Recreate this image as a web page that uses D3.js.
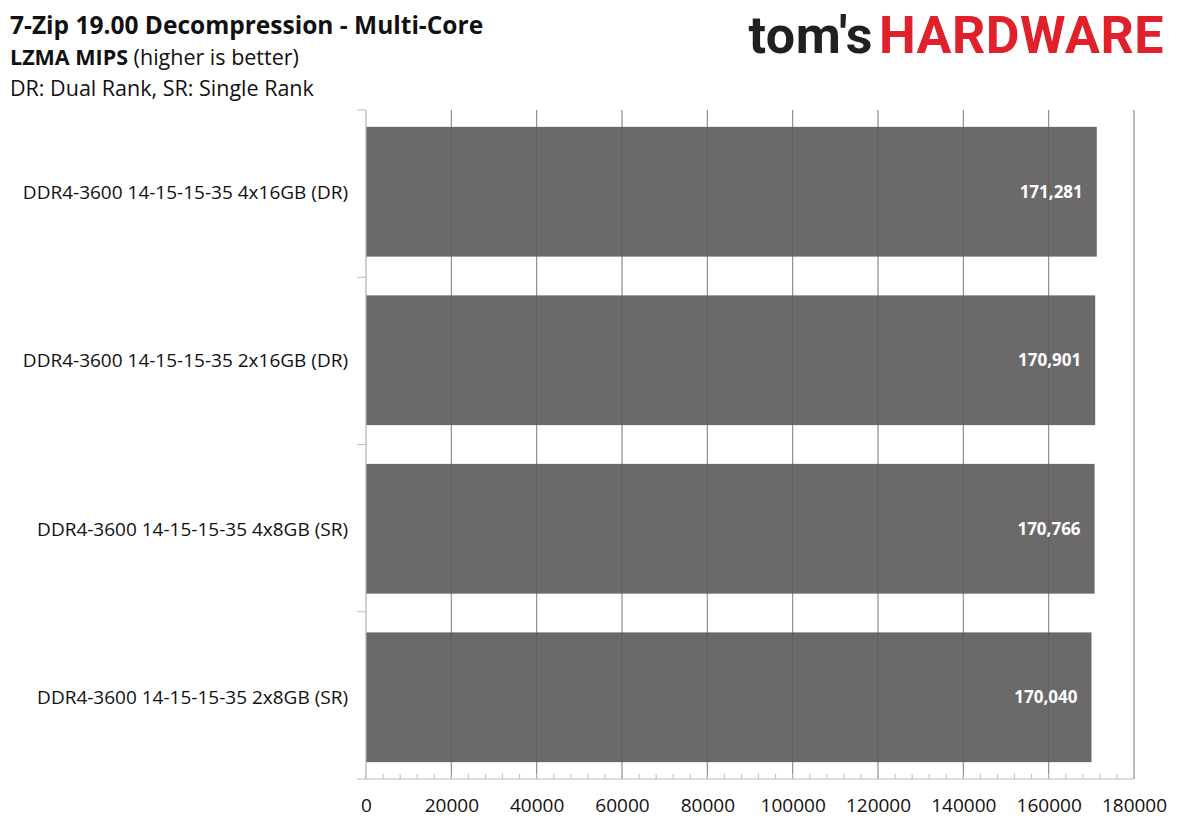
<!DOCTYPE html>
<html><head><meta charset="utf-8">
<script src="https://cdn.jsdelivr.net/npm/d3@7"></script>
<style>body{margin:0;background:#fff;font-family:"Open Sans",sans-serif}</style>
</head><body>
<svg id="c" width="1180" height="833"></svg>
<script>
const categories = [
  "DDR4-3600 14-15-15-35 4x16GB (DR)",
  "DDR4-3600 14-15-15-35 2x16GB (DR)",
  "DDR4-3600 14-15-15-35 4x8GB (SR)",
  "DDR4-3600 14-15-15-35 2x8GB (SR)"
];
const values = [171281, 170901, 170766, 170040];
const xTicks = [0, 20000, 40000, 60000, 80000, 100000, 120000, 140000, 160000, 180000];

const svg = d3.select("#c");
const x = d3.scaleLinear().domain([0, 180000]).range([366, 1134]);
const y = d3.scaleBand().domain(categories).range([110, 779]).paddingInner(0.23).paddingOuter(0.1);
const axisY = 779;

// gridlines
svg.append("g").selectAll("line").data(xTicks).join("line")
  .attr("x1", d => x(d)).attr("x2", d => x(d))
  .attr("y1", 110).attr("y2", axisY)
  .attr("stroke", "#c8c8c8").attr("stroke-width", 1);

// bars
svg.append("g").selectAll("rect").data(values).join("rect")
  .attr("x", x(0)).attr("y", (d, i) => y(categories[i]))
  .attr("width", d => x(d) - x(0)).attr("height", y.bandwidth())
  .attr("fill", "#6b6969");

// gridlines over bars (faint)
svg.append("g").selectAll("line").data(xTicks.slice(1)).join("line")
  .attr("x1", d => x(d)).attr("x2", d => x(d))
  .attr("y1", 110).attr("y2", axisY)
  .attr("stroke", "#5a5858").attr("stroke-width", 1).attr("opacity", 0.6);

// value labels
svg.append("g").selectAll("text").data(values).join("text")
  .attr("x", d => x(d) - 14)
  .attr("y", (d, i) => y(categories[i]) + y.bandwidth() / 2 + 6)
  .attr("text-anchor", "end").attr("fill", "#fff")
  .attr("font-size", 17).attr("font-weight", "bold")
  .text(d => d3.format(",")(d));

// x axis
const xAxis = d3.axisBottom(x).tickValues(xTicks).tickSize(0).tickPadding(20).tickFormat(d3.format("d"));
const gx = svg.append("g").attr("transform", `translate(0,${axisY})`).call(xAxis);
gx.select(".domain").remove();
gx.selectAll("text").attr("font-size", 19).attr("fill", "#111").attr("font-family", "Open Sans");
svg.append("line").attr("x1", 357).attr("x2", 1134).attr("y1", axisY).attr("y2", axisY).attr("stroke", "#bbb");
svg.append("g").selectAll("line").data(d3.range(0, 180001, 4000)).join("line")
  .attr("x1", d => x(d)).attr("x2", d => x(d))
  .attr("y1", axisY).attr("y2", axisY - 5).attr("stroke", "#bbb");

// y axis separators + labels
svg.append("line").attr("x1", 366).attr("x2", 366).attr("y1", 110).attr("y2", axisY).attr("stroke", "#bbb");
const seps = categories.map((c, i) => 110 + i * (669 / 4));
svg.append("g").selectAll("line").data(seps).join("line")
  .attr("x1", 357).attr("x2", 366).attr("y1", d => d).attr("y2", d => d).attr("stroke", "#bbb");
svg.append("g").selectAll("text").data(categories).join("text")
  .attr("x", 348).attr("y", d => y(d) + y.bandwidth() / 2 + 7)
  .attr("text-anchor", "end").attr("font-size", 19).attr("fill", "#111").text(d => d);

// titles
svg.append("text").attr("x", 10).attr("y", 34).attr("font-size", 24.5).attr("font-weight", "bold").attr("fill", "#111")
  .text("7-Zip 19.00 Decompression - Multi-Core");
const st = svg.append("text").attr("x", 10).attr("y", 65).attr("font-size", 21.5).attr("fill", "#111");
st.append("tspan").attr("font-weight", "bold").text("LZMA MIPS");
st.append("tspan").text(" (higher is better)");
svg.append("text").attr("x", 10).attr("y", 96).attr("font-size", 21.5).attr("fill", "#111")
  .text("DR: Dual Rank, SR: Single Rank");

// logo
const logo = svg.append("text").attr("x", 1164).attr("y", 53).attr("text-anchor", "end")
  .attr("font-size", 52).attr("font-weight", "bold").attr("font-family", "Roboto, sans-serif").attr("letter-spacing", 0.5);
logo.append("tspan").attr("fill", "#231f20").text("tom's");
logo.append("tspan").attr("fill", "#e0202a").attr("dx", 6).text("HARDWARE");
</script>
</body></html>
